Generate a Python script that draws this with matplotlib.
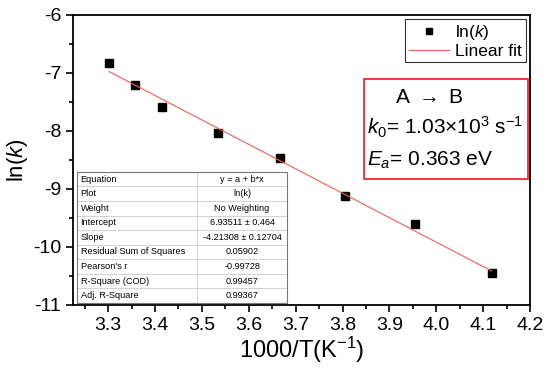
import numpy as np
import matplotlib
matplotlib.use('Agg')
import matplotlib.pyplot as plt
from matplotlib.ticker import MultipleLocator
from matplotlib.patches import Rectangle

plt.rcParams['font.family'] = ['Liberation Sans', 'DejaVu Sans']
plt.rcParams['mathtext.fontset'] = 'custom'
plt.rcParams['mathtext.rm'] = 'Liberation Sans'
plt.rcParams['mathtext.it'] = 'Liberation Sans:italic'
plt.rcParams['axes.unicode_minus'] = False

# ── Data ───────────────────────────────────────────────────
inv_T = [3.302, 3.358, 3.415, 3.535, 3.667, 3.805, 3.955, 4.118]
ln_k  = [-6.82, -7.21, -7.58, -8.03, -8.47, -9.12, -9.61, -10.45]

intercept = 6.93511
slope     = -4.21308

table_keys = ['Equation', 'Plot', 'Weight', 'Intercept', 'Slope',
              'Residual Sum of Squares', "Pearson's r",
              'R-Square (COD)', 'Adj. R-Square']
table_vals = ['y = a + b*x', 'ln(k)', 'No Weighting',
              '6.93511 \u00b1 0.464', '-4.21308 \u00b1 0.12704',
              '0.05902', '-0.99728', '0.99457', '0.99367']

# ── Figure ─────────────────────────────────────────────────
fig = plt.figure(figsize=(5.5, 3.71), dpi=100)
ax = fig.add_axes([0.1327, 0.178, 0.831, 0.7817])

ax.plot(inv_T, ln_k, 's', color='black', ms=5.5, label='ln($k$)')
x_fit = np.array([inv_T[0], inv_T[-1]])
ax.plot(x_fit, intercept + slope * x_fit, color='#ff5a5a', lw=0.8,
        label='Linear fit')

ax.set_xlim(3.225, 4.2)
ax.set_ylim(-11, -6)
ax.xaxis.set_minor_locator(MultipleLocator(0.05))
ax.yaxis.set_major_locator(MultipleLocator(1))
ax.yaxis.set_minor_locator(MultipleLocator(0.5))
ax.set_xticks(np.arange(3.3, 4.21, 0.1))
ax.set_xticklabels([f'{v:.1f}' for v in np.arange(3.3, 4.21, 0.1)])
ax.tick_params(which='major', direction='out', length=5, width=1.2,
               labelsize=14, top=False, right=False)
ax.tick_params(which='minor', direction='out', length=3, width=1.2,
               top=False, right=False)
for sp in ax.spines.values():
    sp.set_linewidth(1.3)

ax.set_xlabel('1000/T(K$^{-1}$)', fontsize=17, labelpad=1)
ax.set_ylabel('ln($k$)', fontsize=16, labelpad=2)

leg = ax.legend(loc='upper right', fontsize=12.5, fancybox=False,
                edgecolor='#333333', framealpha=1, handlelength=2.3,
                borderpad=0.2, labelspacing=0.1, handletextpad=0.4,
                borderaxespad=0.25, markerscale=0.8)
leg.get_frame().set_linewidth(0.8)

# ── Result box ─────────────────────────────────────────────
ax.add_patch(Rectangle((0.637, 0.434), 0.359, 0.345, transform=ax.transAxes,
                       fill=False, edgecolor='#e8191e', lw=1.2))
ax.text(0.78, 0.717, r'A $\rightarrow$ B', transform=ax.transAxes, fontsize=15,
        ha='center', va='center')
ax.text(0.643, 0.612, r'$k_{\mathit{0}}$= 1.03$\times$10$^{3}$ s$^{-1}$',
        transform=ax.transAxes, fontsize=15, ha='left', va='center')
ax.text(0.643, 0.497, r'$E_{a}$= 0.363 eV', transform=ax.transAxes,
        fontsize=15, ha='left', va='center')

# ── Fit table ──────────────────────────────────────────────
tbl = ax.table(cellText=[[k, v] for k, v in zip(table_keys, table_vals)],
               colWidths=[0.57, 0.43], cellLoc='center',
               bbox=[0.0088, 0.007, 0.46, 0.452])
tbl.auto_set_font_size(False)
for (r, c), cell in tbl.get_celld().items():
    cell.set_edgecolor('#cfcfcf')
    cell.set_linewidth(0.6)
    cell.set_facecolor('white')
    cell.get_text().set_fontsize(6.6)
    if c == 0:
        cell.get_text().set_ha('left')
        cell.PAD = 0.03
ax.add_patch(Rectangle((0.0088, 0.007), 0.46, 0.452, transform=ax.transAxes,
                       fill=False, edgecolor='#777777', lw=0.8, zorder=5))

fig.savefig('out.png', dpi=100)
